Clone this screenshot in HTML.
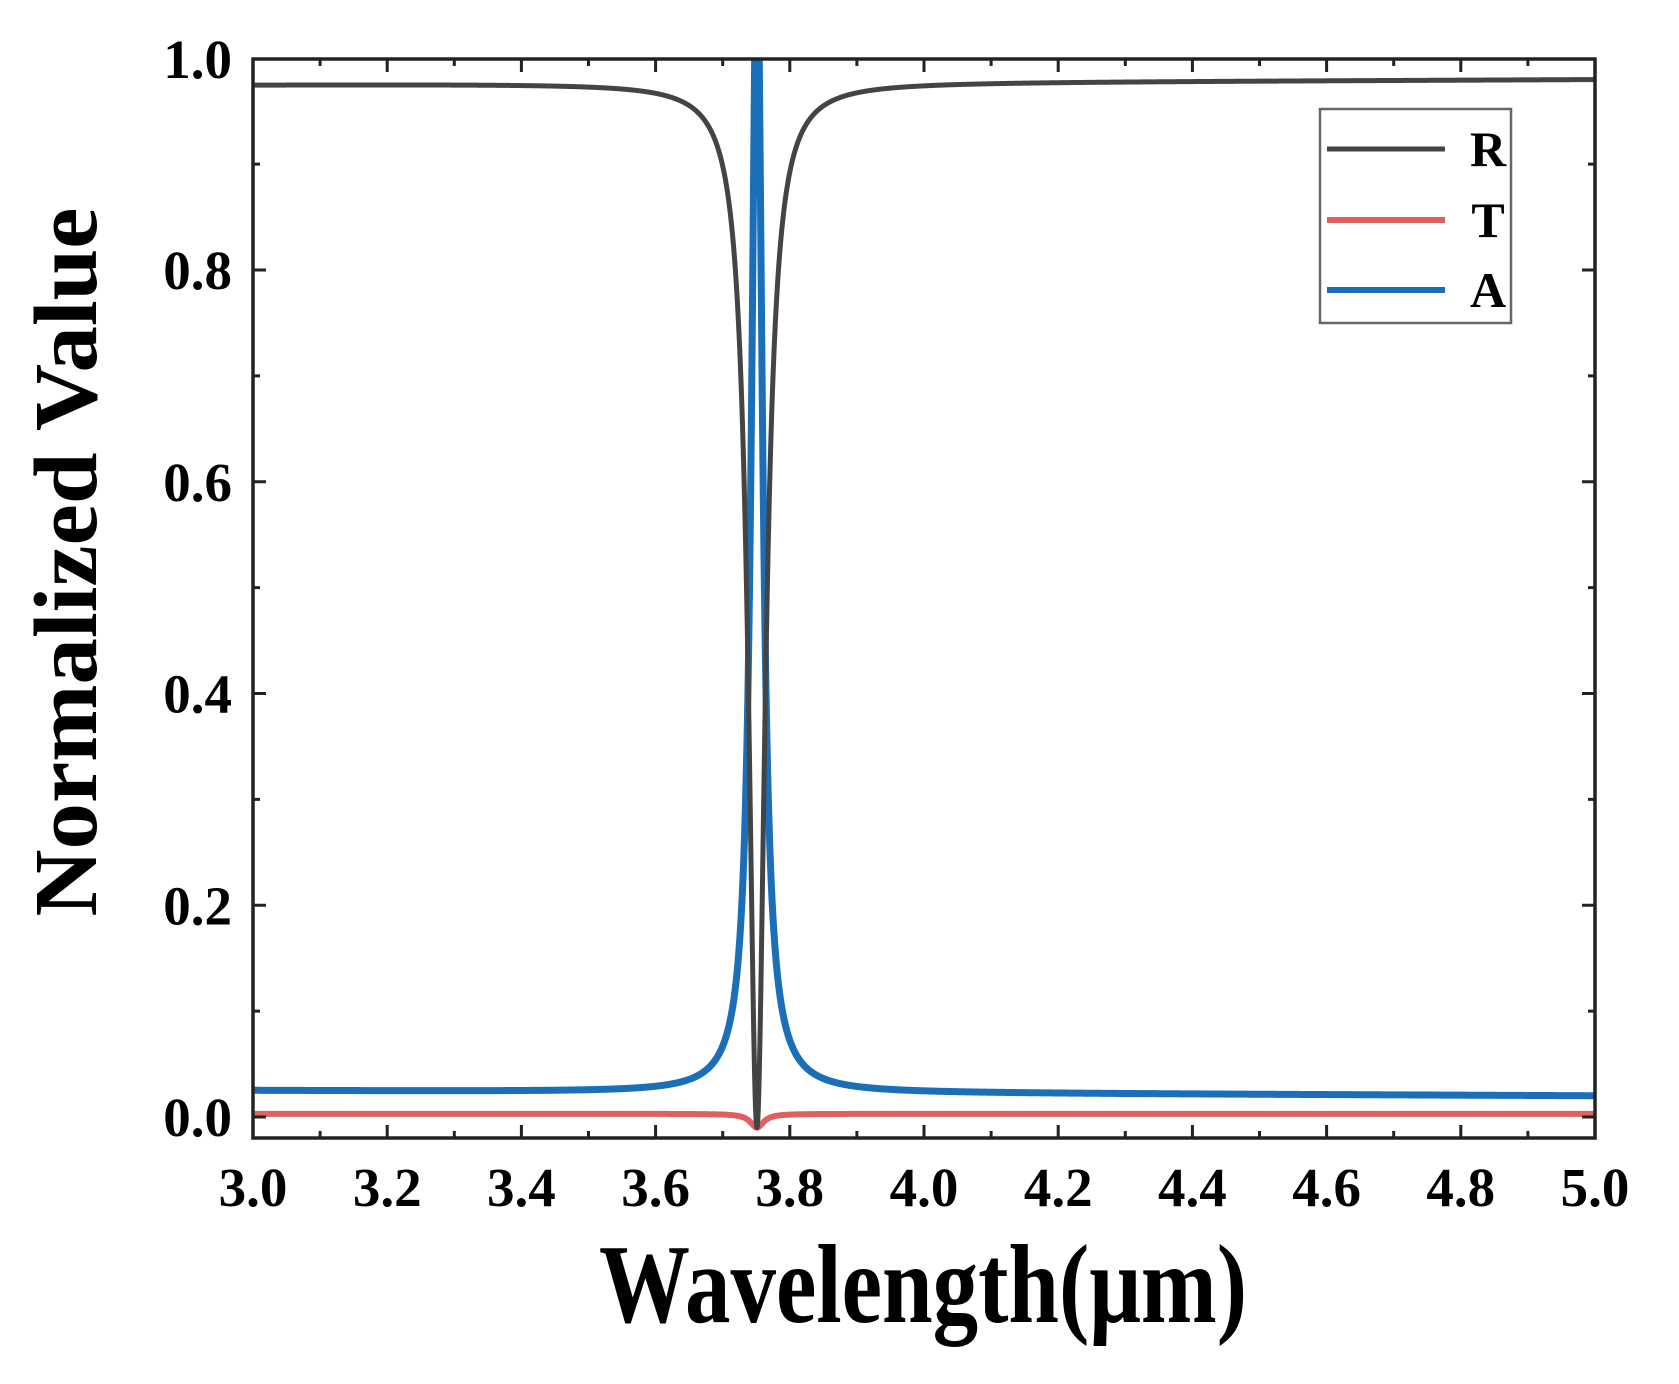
<!DOCTYPE html>
<html><head><meta charset="utf-8"><style>html,body{margin:0;padding:0;background:#fff}svg{display:block}</style></head>
<body>
<svg id="s" width="1679" height="1384" viewBox="0 0 1679 1384" xmlns="http://www.w3.org/2000/svg" font-family="Liberation Serif, serif" font-weight="bold">
<defs><clipPath id="cp"><rect x="253" y="59" width="1342" height="1079"/></clipPath></defs>
<g id="curves" fill="none" stroke-linejoin="round" clip-path="url(#cp)"></g>
<g id="ticks" stroke="#222" stroke-width="3"></g>
<rect x="253" y="59" width="1342" height="1079" fill="none" stroke="#222" stroke-width="3.5"/>
<rect x="1320" y="109" width="191" height="214" fill="#fff" stroke="#666" stroke-width="2.5"/>
<line x1="1327" y1="149" x2="1445" y2="149" stroke="#444" stroke-width="5"/>
<line x1="1327" y1="220" x2="1445" y2="220" stroke="#e06060" stroke-width="6"/>
<line x1="1327" y1="290" x2="1445" y2="290" stroke="#1a6fb8" stroke-width="6"/>
<text x="1488" y="166" font-size="50" text-anchor="middle">R</text>
<text x="1488" y="237" font-size="50" text-anchor="middle">T</text>
<text x="1488" y="307" font-size="50" text-anchor="middle">A</text>
<g id="labels" font-size="55"></g>
<text x="923" y="1322" font-size="112" text-anchor="middle" textLength="648" lengthAdjust="spacingAndGlyphs">Wavelength(μm)</text>
<text transform="translate(96,562) rotate(-90)" font-size="90" text-anchor="middle" textLength="709" lengthAdjust="spacingAndGlyphs">Normalized Value</text>
</svg>
<script>
var X=function(l){return 253+(l-3)*671;},Y=function(v){return 1117-1058.75*v;};
var c=3.751,NS='http://www.w3.org/2000/svg';
function L(l,g){var d=(l-c)/g;return 1/(1+d*d);}
function path(f){var p='';for(var i=0;i<=4000;i++){var l=3+2*i/4000;p+=(i?'L':'M')+X(l).toFixed(2)+' '+Y(f(l)).toFixed(2);}return p;}
function add(f,col,w){var e=document.createElementNS(NS,'path');e.setAttribute('d',path(f));e.setAttribute('stroke',col);e.setAttribute('stroke-width',w);document.getElementById('curves').appendChild(e);}
add(function(l){return 0.003-0.013*L(l,0.012);},'#e06060',6);
add(function(l){var b=0.025-0.005*(l-3)/2;return b+(1.1-b)*L(l,0.0095)+0.02*L(l,0.04)*(l>c?1.3:1);},'#1a6fb8',7);
add(function(l){var b=0.975+0.005*(l-3)/2;return b-(b+0.01)*L(l,0.015);},'#444',5);
var t=document.getElementById('ticks'),lb=document.getElementById('labels');
function ln(a,b,c2,d){var e=document.createElementNS(NS,'line');e.setAttribute('x1',a);e.setAttribute('y1',b);e.setAttribute('x2',c2);e.setAttribute('y2',d);t.appendChild(e);}
function tx(x,y,s,a){var e=document.createElementNS(NS,'text');e.setAttribute('x',x);e.setAttribute('y',y);e.setAttribute('text-anchor',a);e.textContent=s;lb.appendChild(e);}
for(var i=0;i<=20;i++){var x=X(3+i*0.1),m=i%2==0,len=m?13:7;ln(x,1138,x,1138-len);ln(x,59,x,59+len);if(m)tx(x,1206,(3+i*0.1).toFixed(1),'middle');}
for(var i=0;i<=10;i++){var v=i*0.1,y=Y(v),m=i%2==0,len=m?13:7;if(i==10)y=59;ln(253,y,253+len,y);ln(1595,y,1595-len,y);if(m)tx(232,y+19,v.toFixed(1),'end');}
</script>
</body></html>
